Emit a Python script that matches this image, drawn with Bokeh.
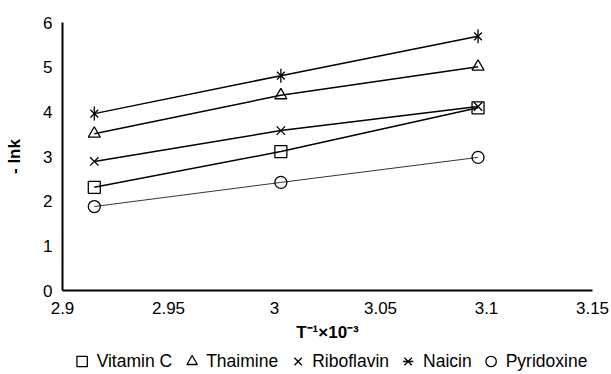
import math
from bokeh.plotting import figure
from bokeh.layouts import column
from bokeh.models import Range1d, FixedTicker, CustomJSTickFormatter, Legend, LegendItem
from bokeh.embed import file_html
from bokeh.resources import INLINE

# Data
x_vals = [2.915, 3.003, 3.096]          # T^-1 x 10^-3
vitamin_c = [2.31, 3.11, 4.09]
thaimine = [3.51, 4.37, 5.01]
riboflavin = [2.89, 3.58, 4.12]
naicin = [3.96, 4.81, 5.69]
pyridoxine = [1.88, 2.42, 2.98]

x_ticks = [2.9, 2.95, 3.0, 3.05, 3.1, 3.15]
y_ticks = [0, 1, 2, 3, 4, 5, 6]

FONT = "Liberation Sans"

p = figure(width=611, height=348, output_backend="svg", toolbar_location=None,
           x_range=Range1d(2.9, 3.15), y_range=Range1d(0, 6),
           min_border_left=62, min_border_right=19, min_border_top=22, min_border_bottom=58)
p.outline_line_color = None
p.grid.visible = False
p.background_fill_color = "white"
p.border_fill_color = "white"

for ax in (p.xaxis[0], p.yaxis[0]):
    ax.axis_line_color = "black"
    ax.axis_line_width = 2
    ax.major_tick_line_color = None
    ax.minor_tick_line_color = None
    ax.major_tick_out = 0
    ax.major_tick_in = 0
    ax.minor_tick_out = 0
    ax.minor_tick_in = 0
    ax.major_label_text_font = FONT
    ax.major_label_text_font_size = "17px"
    ax.major_label_text_color = "black"
    ax.axis_label_text_font = FONT
    ax.axis_label_text_font_size = "17px"
    ax.axis_label_text_font_style = "bold"
    ax.axis_label_text_color = "black"

p.xaxis.ticker = FixedTicker(ticks=x_ticks)
p.xaxis.formatter = CustomJSTickFormatter(code="return String(Math.round(tick*100)/100);")
p.xaxis.major_label_standoff = 11
p.xaxis.axis_label = "T\u207b\u00b9\u00d710\u207b\u00b3"
p.xaxis.axis_label_standoff = 6

p.yaxis.ticker = FixedTicker(ticks=y_ticks)
p.yaxis.major_label_standoff = 10
p.yaxis.axis_label = "- lnk"
p.yaxis.axis_label_standoff = 16

series = [
    ("Vitamin C", vitamin_c, ["square"], 1.5),
    ("Thaimine", thaimine, ["triangle"], 1.5),
    ("Riboflavin", riboflavin, ["x"], 1.5),
    ("Naicin", naicin, ["x", "vdash"], 1.5),
    ("Pyridoxine", pyridoxine, ["circle"], 0.8),
]


def add_markers(fig, ys, markers):
    rs = []
    for m in markers:
        if m == "vdash":
            r = fig.scatter(x_vals, ys, marker="dash", angle=math.pi / 2, size=14,
                            line_color="black", line_width=1.3)
        elif m == "x" and len(markers) > 1:
            r = fig.scatter(x_vals, ys, marker="x", size=11,
                            line_color="black", line_width=1.3)
        else:
            r = fig.scatter(x_vals, ys, marker=m, size=12, fill_color=None,
                            line_color="black", line_width=1.3)
        rs.append(r)
    return rs


# Legend strip below the chart (its own renderers sit outside its view range)
lp = figure(width=611, height=26, output_backend="svg", toolbar_location=None,
            x_range=Range1d(0, 1), y_range=Range1d(0, 1),
            x_axis_type=None, y_axis_type=None,
            min_border_left=38, min_border_right=0, min_border_top=0, min_border_bottom=0)
lp.outline_line_color = None
lp.grid.visible = False
lp.background_fill_color = "white"
lp.border_fill_color = "white"

items = []
for name, ys, markers, lw in series:
    p.line(x_vals, ys, line_color="black", line_width=lw)
    add_markers(p, ys, markers)
    rs = add_markers(lp, ys, markers)
    items.append(LegendItem(label=name, renderers=rs))

legend = Legend(items=items, orientation="horizontal", location="center",
                glyph_width=30, glyph_height=26, label_standoff=0, spacing=4,
                padding=0, margin=0, border_line_color=None,
                background_fill_alpha=0,
                label_text_font=FONT, label_text_font_size="17.5px",
                label_text_color="black")
lp.add_layout(legend, "center")

layout = column(p, lp, spacing=0)
open("out.html", "w").write(file_html(layout, INLINE))
